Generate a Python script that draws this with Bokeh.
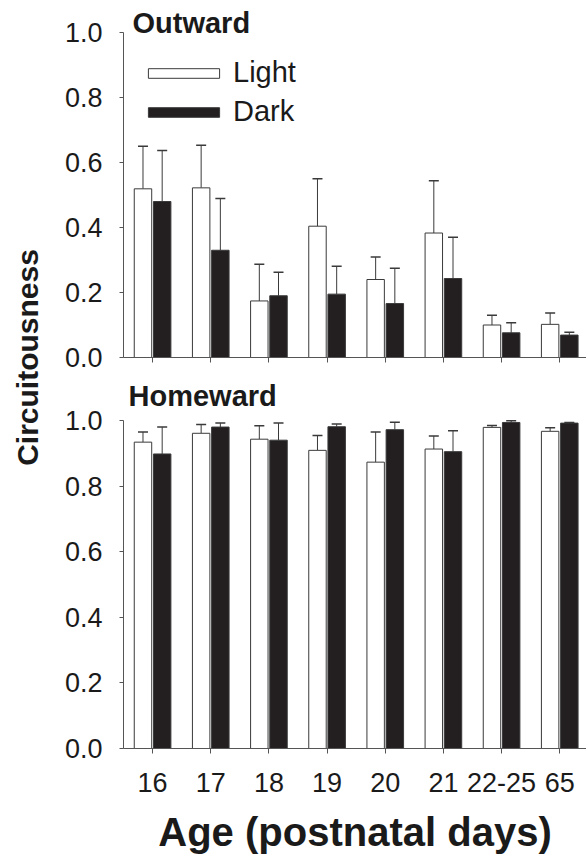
import numpy as np
from bokeh.plotting import figure
from bokeh.models import (ColumnDataSource, Whisker, TeeHead, FixedTicker,
                          PrintfTickFormatter, Legend, LegendItem, Label, Range1d)
from bokeh.layouts import row, column
from bokeh.embed import file_html
from bokeh.resources import INLINE

# ---- data ----
ages = ["16", "17", "18", "19", "20", "21", "22-25", "65"]

out_light = [0.519, 0.522, 0.174, 0.404, 0.240, 0.383, 0.100, 0.102]
out_light_err = [0.131, 0.131, 0.113, 0.146, 0.069, 0.161, 0.030, 0.035]
out_dark = [0.480, 0.330, 0.190, 0.195, 0.166, 0.243, 0.076, 0.069]
out_dark_err = [0.157, 0.159, 0.072, 0.086, 0.109, 0.127, 0.031, 0.009]

home_light = [0.934, 0.961, 0.943, 0.909, 0.873, 0.913, 0.979, 0.967]
home_light_err = [0.031, 0.027, 0.041, 0.045, 0.092, 0.040, 0.006, 0.011]
home_dark = [0.898, 0.980, 0.940, 0.981, 0.972, 0.905, 0.994, 0.992]
home_dark_err = [0.082, 0.012, 0.052, 0.008, 0.023, 0.064, 0.005, 0.002]

y_ticks = [0.0, 0.2, 0.4, 0.6, 0.8, 1.0]

FONT = "Liberation Sans"
TXT = "#1a1a1a"
AX = "#555555"
DARK = "#231f20"
EDGE = "#3a3a3a"

BAR_W = 0.30
OFF = 0.165


def panel(light, light_err, dark, dark_err, title, bottom_axis):
    idx = np.arange(len(ages))
    src = ColumnDataSource(dict(
        xl=idx - OFF, xd=idx + OFF,
        light=light, dark=dark,
        light_up=np.array(light) + np.array(light_err),
        dark_up=np.array(dark) + np.array(dark_err),
    ))
    if bottom_axis:
        # frame top at page y=377, value 1.0 at y=420, 0.0 at y=748
        ytop = 1.0 + 43 / 328
        p = figure(width=536, height=483,
                   x_range=Range1d(-0.5, 7.46), y_range=Range1d(0, ytop),
                   output_backend="svg", toolbar_location=None,
                   min_border_left=73, min_border_right=0,
                   min_border_top=0, min_border_bottom=112)
        title_y = 1.0 + 25 / 328
        title_dx = 5
    else:
        # frame top at page y=0, value 1.0 at y=32, 0.0 at y=357
        ytop = 1.0 + 32 / 325
        p = figure(width=536, height=377,
                   x_range=Range1d(-0.5, 7.46), y_range=Range1d(0, ytop),
                   output_backend="svg", toolbar_location=None,
                   min_border_left=73, min_border_right=0,
                   min_border_top=0, min_border_bottom=20)
        title_y = 1.0 + 10 / 325
        title_dx = 9
    p.outline_line_color = None
    p.grid.visible = False
    p.background_fill_color = "white"

    # error bars (upper only) drawn under the bars
    for base, lo, up in (("xl", "light", "light_up"), ("xd", "dark", "dark_up")):
        w = Whisker(source=src, base=base, lower=lo, upper=up, dimension="height",
                    line_color=EDGE, line_width=1, lower_head=None,
                    upper_head=TeeHead(size=10, line_color=EDGE, line_width=1.5))
        w.level = "underlay"
        p.add_layout(w)

    r_l = p.vbar(x="xl", top="light", bottom=0, width=BAR_W, source=src,
                 fill_color="white", line_color=EDGE, line_width=1)
    r_d = p.vbar(x="xd", top="dark", bottom=0, width=BAR_W, source=src,
                 fill_color=DARK, line_color=EDGE, line_width=1)

    # y axis
    ya = p.yaxis[0]
    ya.ticker = FixedTicker(ticks=y_ticks)
    ya.formatter = PrintfTickFormatter(format="%.1f")
    ya.bounds = (0, 1)
    ya.minor_tick_line_color = None
    ya.major_tick_in = 0
    ya.major_tick_out = 4
    ya.axis_line_color = AX
    ya.major_tick_line_color = AX
    ya.major_label_text_font = FONT
    ya.major_label_text_font_size = "27px"
    ya.major_label_text_color = TXT
    ya.major_label_standoff = 17

    # x axis
    xa = p.xaxis[0]
    xa.ticker = FixedTicker(ticks=list(range(len(ages))))
    xa.minor_tick_line_color = None
    xa.major_tick_in = 0
    xa.major_tick_out = 5
    xa.axis_line_color = AX
    xa.major_tick_line_color = AX
    xa.major_label_text_font = FONT
    xa.major_label_text_color = TXT
    xa.major_label_text_font_size = "27px"
    if bottom_axis:
        xa.major_label_overrides = {i: a for i, a in enumerate(ages)}
        xa.major_label_standoff = 19
        xa.axis_label = "Age (postnatal days)"
        xa.axis_label_text_font = FONT
        xa.axis_label_text_font_size = "40px"
        xa.axis_label_text_font_style = "bold"
        xa.axis_label_text_color = TXT
        xa.axis_label_standoff = 15
    else:
        xa.major_label_overrides = {i: "" for i in range(len(ages))}
        xa.major_label_standoff = 0

    p.add_layout(Label(x=-0.5 + title_dx / 58.2, y=title_y, text=title,
                       text_font=FONT, text_font_size="29px",
                       text_font_style="bold", text_color=TXT,
                       text_baseline="alphabetic", text_align="left"))
    return p, r_l, r_d


top, rl, rd = panel(out_light, out_light_err, out_dark, out_dark_err,
                    "Outward", False)
legend = Legend(items=[LegendItem(label="Light", renderers=[rl]),
                       LegendItem(label="Dark", renderers=[rd])],
                location=(16, 229), margin=0, padding=0, spacing=6,
                glyph_width=89, glyph_height=12, label_height=33,
                label_standoff=5, label_text_font=FONT,
                label_text_font_size="29px", label_text_color=TXT,
                border_line_color=None, background_fill_alpha=0)
top.add_layout(legend)

bot, _, _ = panel(home_light, home_light_err, home_dark, home_dark_err,
                  "Homeward", True)

lab = figure(width=50, height=860, x_range=Range1d(0, 50),
             y_range=Range1d(0, 860), output_backend="svg",
             toolbar_location=None, x_axis_location=None,
             y_axis_location=None, min_border=0)
lab.outline_line_color = None
lab.grid.visible = False
lab.add_layout(Label(x=27, y=860 - 357, text="Circuitousness", angle=90,
                     angle_units="deg", text_align="center",
                     text_baseline="middle", text_font=FONT,
                     text_font_size="30px", text_font_style="bold",
                     text_color=TXT))

layout = row(lab, column(top, bot, spacing=0), spacing=0)

open("out.html", "w").write(file_html(layout, INLINE))
